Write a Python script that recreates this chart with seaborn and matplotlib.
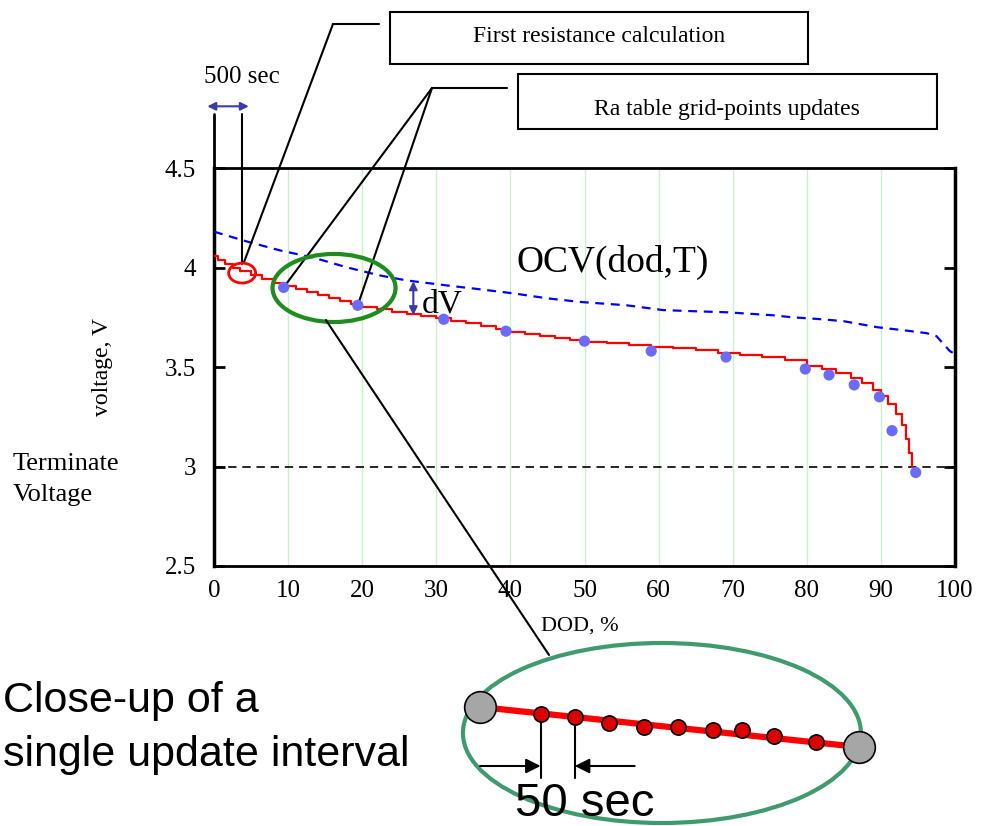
import numpy as np
import matplotlib
matplotlib.use('Agg')
import matplotlib.pyplot as plt
from matplotlib.patches import Ellipse, Rectangle, ConnectionPatch
from matplotlib.lines import Line2D
import seaborn as sns

# terminal voltage under load (stair steps), DOD in %
red_dod = [0, 0.5, 1.5, 2.5, 3.5, 5, 6.5, 8, 9.5, 11, 12.5, 14, 15.5, 17, 18.5,
           20, 22, 24, 26, 28, 30, 32, 34, 36, 38, 40, 42, 44, 46, 48, 50, 53,
           56, 59, 62, 65, 68, 71, 74, 77, 80, 82, 84, 86, 87.5, 89, 90, 91, 92,
           92.8, 93.4, 93.8, 94.2]
red_v = [4.06, 4.04, 4.02, 4.00, 3.98, 3.96, 3.94, 3.92, 3.905, 3.89, 3.875,
         3.86, 3.845, 3.83, 3.815, 3.80, 3.79, 3.775, 3.765, 3.755, 3.745,
         3.733, 3.72, 3.705, 3.69, 3.677, 3.667, 3.657, 3.647, 3.637, 3.628,
         3.62, 3.612, 3.602, 3.595, 3.587, 3.572, 3.562, 3.552, 3.535, 3.505,
         3.49, 3.47, 3.445, 3.42, 3.385, 3.355, 3.315, 3.265, 3.21, 3.14, 3.07,
         3.0]

# open circuit voltage
ocv_dod = [0, 4.5, 9, 13.4, 18, 22.4, 26, 31.4, 36, 40.4, 45, 49.4, 55.7, 60.6,
           65, 69.2, 75.4, 78, 82, 85, 89.5, 93, 96.2, 97.5, 99.3, 100]
ocv_v = [4.18, 4.13, 4.085, 4.05, 4.0, 3.96, 3.935, 3.91, 3.89, 3.87, 3.845,
         3.827, 3.81, 3.786, 3.78, 3.775, 3.76, 3.75, 3.74, 3.73, 3.70, 3.685,
         3.67, 3.655, 3.58, 3.565]

# Ra table grid points
grid_dod = [9.4, 19.4, 31.0, 39.4, 50.0, 59.0, 69.1, 79.8, 83.0, 86.4, 89.8,
            91.5, 94.7]
grid_v = [3.90, 3.81, 3.74, 3.68, 3.63, 3.58, 3.55, 3.49, 3.46, 3.41, 3.35,
          3.18, 2.97]

xticks = list(range(0, 101, 10))
yticks = [2.5, 3, 3.5, 4, 4.5]
ytick_labels = ['2.5', '3', '3.5', '4', '4.5']
terminate_v = 3.0
first_calc_dod = 3.8   # 500 sec
first_calc_v = 3.972
dv_dod = 26.9

# close-up of one update interval (seconds, relative drop)
closeup_t = [0, 80, 125, 170, 216, 261, 307, 346, 388, 443, 500]
closeup_drop = [0, 7, 10, 16, 20, 20, 23, 23, 29, 35, 40]

W, H = 984, 826
def fx(px):
    return px / W
def fy(py):
    return 1 - py / H

sns.set_theme(style='white', rc={'text.color': 'black', 'axes.labelcolor': 'black',
                                 'xtick.color': 'black', 'ytick.color': 'black'})
plt.rcParams['font.family'] = ['Liberation Serif', 'DejaVu Serif']

fig = plt.figure(figsize=(9.84, 8.26), dpi=100)
ax = fig.add_axes([fx(214), fy(566), (955 - 214) / W, (566 - 168) / H])

ax.xaxis.grid(True, color='#c8f2c8', lw=1)
ax.set_axisbelow(True)

ax.axhline(terminate_v, color='black', lw=1.2, linestyle=(0, (5, 3.5)), zorder=2)
sns.lineplot(x=ocv_dod, y=ocv_v, color='blue', lw=1.6, linestyle=(0, (4, 3)),
             ax=ax, errorbar=None, zorder=3)
sns.lineplot(x=red_dod, y=red_v, color='red', lw=1.6, drawstyle='steps-post',
             ax=ax, errorbar=None, zorder=3)
sns.scatterplot(x=grid_dod, y=grid_v, color='#6b6bf7', s=65, edgecolor='none',
                ax=ax, zorder=5)

ax.set_xlim(0, 100)
ax.set_ylim(2.5, 4.5)
ax.set_xticks(xticks)
ax.set_xticklabels([str(t) for t in xticks])
ax.set_yticks(yticks)
ax.set_yticklabels(ytick_labels)
ax.tick_params(axis='x', length=0, pad=10, labelsize=18)
ax.tick_params(axis='y', direction='in', length=8, width=2, left=True, right=True,
               pad=13, labelsize=18)
for name, s in ax.spines.items():
    s.set_color('black')
    s.set_linewidth(2.5 if name in ('left', 'right') else 2)

ax.set_xlabel('DOD, %', fontsize=16)
ax.xaxis.set_label_coords((580 - 214) / 741, -0.128)
ax.set_ylabel('voltage, V', fontsize=17)
ax.yaxis.set_label_coords(-0.136, 0.5)

fig.text(fx(13), fy(470), 'Terminate', fontsize=19, va='baseline')
fig.text(fx(13), fy(501), 'Voltage', fontsize=19, va='baseline')

ax.text(53.8, 3.977, 'OCV(dod,T)', fontsize=27, ha='center', va='baseline')

# dV arrow between OCV and loaded voltage
ocv_at = np.interp(dv_dod, ocv_dod, ocv_v)
red_at = np.interp(dv_dod, red_dod, red_v)
ax.annotate('', xy=(dv_dod, ocv_at), xytext=(dv_dod, red_at),
            arrowprops=dict(arrowstyle='<|-|>', color='#3a3aa0', lw=1.5,
                            mutation_scale=12, shrinkA=0, shrinkB=0))
ax.text(dv_dod + 1.2, 3.776, 'dV', fontsize=24, va='baseline')

# 500 sec marker
ax.plot([0, 0], [4.02, 4.77], color='black', lw=2, clip_on=False)
ax.plot([first_calc_dod, first_calc_dod], [4.02, 4.77], color='black', lw=1.5,
        clip_on=False)
ax.annotate('', xy=(-0.9, 4.81), xytext=(first_calc_dod + 0.9, 4.81),
            arrowprops=dict(arrowstyle='<|-|>', color='#3a3aa8', lw=1.5,
                            mutation_scale=12, shrinkA=0, shrinkB=0),
            annotation_clip=False)
ax.text(first_calc_dod, 4.927, '500 sec', fontsize=18, ha='center', va='baseline',
        clip_on=False)

ax.add_patch(Ellipse((first_calc_dod, first_calc_v), 3.64, 0.1, fill=False,
                     ec='red', lw=2, zorder=6))
ax.add_patch(Ellipse((16.2, 3.897), 16.6, 0.342, fill=False, ec='#1e8c1e', lw=3,
                     zorder=6))

# callout boxes
fig.add_artist(Rectangle((fx(390), fy(64)), (808 - 390) / W, (64 - 12) / H,
                         transform=fig.transFigure, fill=False, ec='black', lw=1.5))
fig.text(fx(599), fy(37), 'First resistance calculation', fontsize=17,
         ha='center', va='center')
fig.add_artist(Rectangle((fx(518), fy(129)), (937 - 518) / W, (129 - 74) / H,
                         transform=fig.transFigure, fill=False, ec='black', lw=1.5))
fig.text(fx(727), fy(109), 'Ra table grid-points updates', fontsize=17,
         ha='center', va='center')

fig.add_artist(Line2D([fx(333), fx(379)], [fy(24), fy(24)], color='black', lw=1.5,
                      transform=fig.transFigure))
ax.annotate('', xy=(first_calc_dod + 0.2, first_calc_v + 0.05),
            xytext=(fx(333), fy(24)), textcoords='figure fraction',
            arrowprops=dict(arrowstyle='-', color='black', lw=1.5, shrinkA=0,
                            shrinkB=0))
fig.add_artist(Line2D([fx(432), fx(507)], [fy(88), fy(88)], color='black', lw=1.5,
                      transform=fig.transFigure))
for i in (0, 1):
    ax.annotate('', xy=(grid_dod[i], grid_v[i]), xytext=(fx(432), fy(88)),
                textcoords='figure fraction',
                arrowprops=dict(arrowstyle='-', color='black', lw=1.5, shrinkA=0,
                                shrinkB=0))

# close-up inset
ax2 = fig.add_axes([fx(440), fy(826), 440 / W, 196 / H])
ax2.set_xlim(-52.8, 527.7)
ax2.set_ylim(119, -77)
ax2.axis('off')
ax2.add_patch(Ellipse((240, 26), 525, 180, fill=False, ec='#3f9b6e', lw=3))
ax2.plot([closeup_t[0], closeup_t[-1]], [closeup_drop[0], closeup_drop[-1]],
         color='red', lw=4.5, zorder=2, solid_capstyle='butt')
sns.scatterplot(x=closeup_t[1:-1], y=closeup_drop[1:-1], s=120, color='#dd0000',
                edgecolor='black', linewidth=1.2, ax=ax2, zorder=4)
sns.scatterplot(x=[closeup_t[0], closeup_t[-1]], y=[closeup_drop[0], closeup_drop[-1]],
                s=520, color='#a6a6a6', edgecolor='black', linewidth=1.2, ax=ax2,
                zorder=4)
for i in (1, 2):
    ax2.plot([closeup_t[i], closeup_t[i]], [closeup_drop[i], 71], color='black',
             lw=1.5, zorder=3)
ax2.annotate('', xy=(closeup_t[1], 59), xytext=(0, 59),
             arrowprops=dict(arrowstyle='-|>', color='black', lw=1.5,
                             mutation_scale=22, shrinkA=0, shrinkB=0))
ax2.annotate('', xy=(closeup_t[2], 59), xytext=(204, 59),
             arrowprops=dict(arrowstyle='-|>', color='black', lw=1.5,
                             mutation_scale=22, shrinkA=0, shrinkB=0))
ax2.text(138, 109, '50 sec', fontsize=34, family='Liberation Sans', ha='center',
         va='baseline', clip_on=False)

con = ConnectionPatch(xyA=(15.1, 3.736), coordsA='data', axesA=ax,
                      xyB=(91, -52), coordsB='data', axesB=ax2,
                      color='black', lw=1.5)
fig.add_artist(con)

fig.text(fx(3), fy(712), 'Close-up of a', fontsize=31, family='Liberation Sans',
         va='baseline')
fig.text(fx(3), fy(766), 'single update interval', fontsize=31,
         family='Liberation Sans', va='baseline')

fig.savefig('out.png', dpi=100)
